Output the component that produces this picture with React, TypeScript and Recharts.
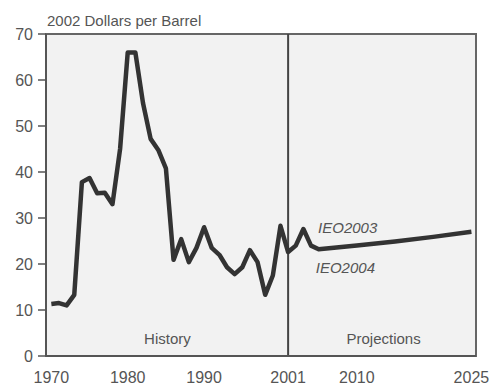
import React from 'react';
import { LineChart, Line, XAxis, YAxis, CartesianGrid, ReferenceArea, ReferenceLine, ReferenceDot } from 'recharts';

const years = [
  1970, 1971, 1972, 1973, 1974, 1975, 1976, 1977, 1978, 1979,
  1980, 1981, 1982, 1983, 1984, 1985, 1986, 1987, 1988, 1989,
  1990, 1991, 1992, 1993, 1994, 1995, 1996, 1997, 1998, 1999,
  2000, 2001, 2002, 2003, 2004, 2005, 2010, 2015, 2020, 2025,
];
const prices = [
  11.3, 11.5, 11.0, 13.3, 37.8, 38.7, 35.4, 35.5, 33.0, 45.0,
  66.0, 66.0, 55.0, 47.2, 44.8, 40.8, 20.9, 25.4, 20.4, 23.5,
  28.0, 23.5, 22.0, 19.3, 17.8, 19.3, 23.0, 20.4, 13.3, 17.5,
  28.3, 22.6, 24.0, 27.6, 24.0, 23.2, 24.0, 24.9, 25.9, 27.0,
];
const xTicks = [1970, 1980, 1990, 2001, 2010, 2025];
const yTicks = [0, 10, 20, 30, 40, 50, 60, 70];

const xDomain: [number, number] = [1969.3, 2025.6];
const splitYear = 2001;

const data = years.map((year, i) => ({ year, price: prices[i] }));

const font = '"Liberation Sans", Arial, sans-serif';
const textColor = '#555';

const note = (value: string, italic = false) => ({
  value,
  position: 'center' as const,
  fill: textColor,
  fontSize: 15,
  fontStyle: italic ? 'italic' : 'normal',
  fontFamily: font,
});

const App: React.FC = () => {
  return (
    <div style={{ position: 'absolute', left: 0, top: 0, width: 496, height: 387, background: '#fff', fontFamily: font }}>
      <div style={{ position: 'absolute', left: 47, top: 11, fontSize: 15, color: textColor, lineHeight: '20px' }}>
        2002 Dollars per Barrel
      </div>
      <LineChart width={496} height={387} data={data} margin={{ top: 34, right: 20, bottom: 0, left: 0 }}>
        <CartesianGrid horizontal={false} vertical={false} fill="#f2f2f2" />
        <ReferenceArea x1={xDomain[0]} x2={xDomain[1]} y1={0} y2={70} fill="none" stroke="#666" strokeWidth={2} ifOverflow="extendDomain" />
        <ReferenceLine x={splitYear} stroke="#444" strokeWidth={2} />
        <XAxis
          type="number"
          dataKey="year"
          domain={xDomain}
          ticks={xTicks}
          allowDataOverflow
          height={31}
          tickLine={false}
          axisLine={{ stroke: '#555', strokeWidth: 2 }}
          tickMargin={10}
          tick={{ fill: textColor, fontSize: 16, fontFamily: font }}
        />
        <YAxis
          type="number"
          domain={[0, 70]}
          ticks={yTicks}
          width={46}
          tickSize={8}
          tickMargin={5}
          axisLine={{ stroke: '#555', strokeWidth: 2 }}
          tickLine={{ stroke: '#555', strokeWidth: 1.5 }}
          tick={{ fill: textColor, fontSize: 16, fontFamily: font }}
        />
        <Line
          type="linear"
          dataKey="price"
          stroke="#333"
          strokeWidth={4.5}
          dot={false}
          strokeLinejoin="round"
          isAnimationActive={false}
        />
        <ReferenceDot x={1985.2} y={3.7} r={0} fill="none" stroke="none" label={note('History')} />
        <ReferenceDot x={2013.5} y={3.7} r={0} fill="none" stroke="none" label={note('Projections')} />
        <ReferenceDot x={2008.8} y={27.8} r={0} fill="none" stroke="none" label={note('IEO2003', true)} />
        <ReferenceDot x={2008.5} y={19.3} r={0} fill="none" stroke="none" label={note('IEO2004', true)} />
      </LineChart>
    </div>
  );
};

export default App;
